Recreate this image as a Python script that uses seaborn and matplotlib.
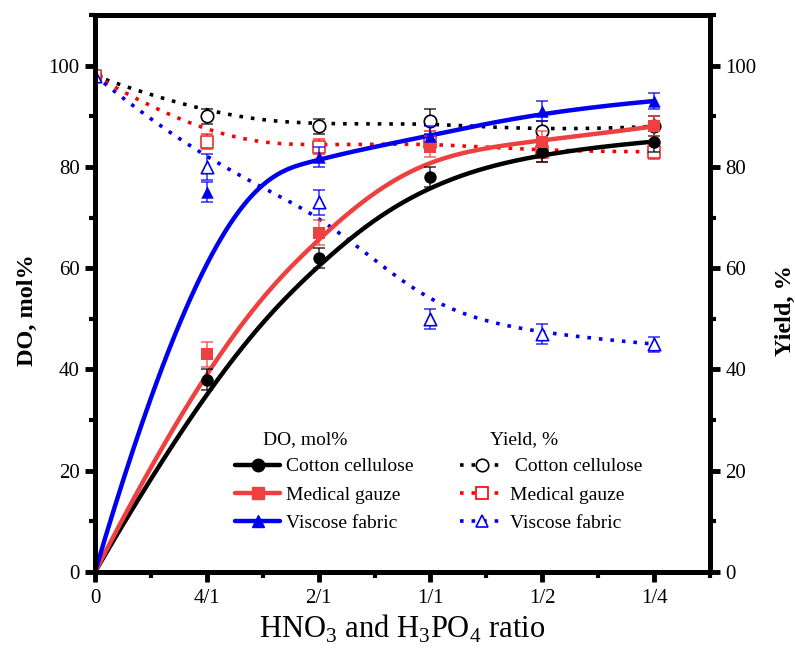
import numpy as np
import pandas as pd
import matplotlib
matplotlib.use("Agg")
import matplotlib.pyplot as plt
from matplotlib.lines import Line2D
from matplotlib.ticker import MultipleLocator
import seaborn as sns

# ratio positions and labels
x_pos = [0, 1, 2, 3, 4, 5]
x_labels = ["0", "4/1", "2/1", "1/1", "1/2", "1/4"]

# degree of oxidation, mol%
do_cotton = [0, 38, 62, 78, 83, 85]
do_gauze = [0, 43, 67, 84, 85, 88]
do_viscose = [0, 75, 82, 86, 91, 93]
do_cotton_err = [0, 2, 2, 2, 2, 2]
do_gauze_err = [0, 2.5, 2.5, 2, 2, 2]
do_viscose_err = [0, 2, 2, 2, 2, 1.5]

# yield, %
y_cotton = [98, 90, 88, 89, 87, 88]
y_gauze = [98, 85, 84, 85, 83, 83]
y_viscose = [98, 80, 73, 50, 47, 45]
y_cotton_err = [0, 1.5, 1.5, 2.5, 2, 2]
y_gauze_err = [0, 1.5, 1.5, 2, 2, 1.5]
y_viscose_err = [0, 2.5, 2.5, 2, 2, 1.5]

BLACK, RED, BLUE = "#000000", "#EE4040", "#0000EE"
RED_DOT = "#FF0000"


def bspline(px, py, degree=3, n=400):
    """Clamped uniform B-spline using the data points as control points."""
    P = np.column_stack([px, py]).astype(float)
    m, k = len(P), degree
    knots = np.concatenate([np.zeros(k + 1), np.arange(1, m - k), np.full(k + 1, m - k)])
    u = np.linspace(0, m - k, n)
    u[-1] -= 1e-9
    N = np.zeros((n, len(knots) - 1))
    for i in range(len(knots) - 1):
        N[:, i] = (u >= knots[i]) & (u < knots[i + 1])
    for d in range(1, k + 1):
        Nn = np.zeros((n, len(knots) - 1 - d))
        for i in range(len(knots) - 1 - d):
            den1 = knots[i + d] - knots[i]
            den2 = knots[i + d + 1] - knots[i + 1]
            t1 = (u - knots[i]) / den1 * N[:, i] if den1 > 0 else 0
            t2 = (knots[i + d + 1] - u) / den2 * N[:, i + 1] if den2 > 0 else 0
            Nn[:, i] = t1 + t2
        N = Nn
    C = N @ P
    return pd.DataFrame({"x": C[:, 0], "y": C[:, 1]})


sns.set_style("ticks")
plt.rcParams["font.family"] = ["Liberation Serif", "DejaVu Serif"]
plt.rcParams["mathtext.fontset"] = "custom"
plt.rcParams["mathtext.rm"] = "Liberation Serif"
plt.rcParams["text.color"] = "black"
plt.rcParams["axes.labelcolor"] = "black"
plt.rcParams["xtick.color"] = "black"
plt.rcParams["ytick.color"] = "black"
plt.rcParams["axes.edgecolor"] = "black"

fig = plt.figure(figsize=(7.95, 6.51), dpi=100)
ax = fig.add_axes([0.1195, 0.1214, 0.7735, 0.8556])
ax2 = ax.twinx()

DOTS = (0, (1, 2.2))

do_sets = [(do_cotton, do_cotton_err, BLACK, "o", "Cotton cellulose"),
           (do_gauze, do_gauze_err, RED, "s", "Medical gauze"),
           (do_viscose, do_viscose_err, BLUE, "^", "Viscose fabric")]
y_sets = [(y_cotton, y_cotton_err, BLACK, "o", " Cotton cellulose"),
          (y_gauze, y_gauze_err, RED_DOT, "s", "Medical gauze"),
          (y_viscose, y_viscose_err, BLUE, "^", "Viscose fabric")]

# yield (right axis): dotted B-spline with hollow markers
for vals, err, col, mk, name in y_sets:
    sns.lineplot(data=bspline(x_pos, vals), x="x", y="y", ax=ax2, color=col, lw=2.6,
                 linestyle=DOTS, sort=False, legend=False)
    ax2.errorbar(x_pos, vals, yerr=err, fmt="none", ecolor=col, elinewidth=1.2,
                 capsize=4, capthick=1.2, alpha=0.75, zorder=3)
    ax2.scatter(x_pos, vals, marker=mk, s=80, facecolor="white",
                edgecolor=("#EE3030" if col == RED_DOT else col), lw=1.2, zorder=4)

# degree of oxidation (left axis): solid B-spline with filled markers
for vals, err, col, mk, name in do_sets:
    sns.lineplot(data=bspline(x_pos, vals), x="x", y="y", ax=ax, color=col, lw=3.2,
                 sort=False, legend=False)
    ax.errorbar(x_pos[1:], vals[1:], yerr=err[1:], fmt="none", ecolor=col,
                elinewidth=1.2, capsize=4, capthick=1.2, alpha=0.75, zorder=3)
    ax.scatter(x_pos[1:], vals[1:], marker=mk, s=80, color=col, lw=0, zorder=4)

ax.set_zorder(ax2.get_zorder() + 1)
ax.patch.set_visible(False)

for a in (ax, ax2):
    a.set_ylim(0, 110)
    a.yaxis.set_major_locator(MultipleLocator(20))
    a.yaxis.set_minor_locator(MultipleLocator(10))
    for s in a.spines.values():
        s.set_linewidth(3.5)
        s.set_color("black")
        s.set_visible(True)
    a.tick_params(which="major", direction="out", length=7, width=3.5, labelsize=15, pad=4)
    a.tick_params(which="minor", direction="out", length=4, width=3)

ax.set_xlim(0, 5.5)
ax.set_xticks(x_pos)
ax.set_xticklabels(x_labels)
ax.xaxis.set_minor_locator(MultipleLocator(0.5))
ax.tick_params(axis="x", which="major", pad=5)

ax.set_xlabel(r"HNO$_3$ and H$_3$PO$_4$ ratio", fontsize=22, labelpad=4)
ax.set_ylabel("DO, mol%", fontsize=17.5, fontweight="bold")
ax2.set_ylabel("Yield, %", fontsize=17.5, fontweight="bold")
ax.yaxis.set_label_coords(-0.092, 0.47)
ax2.yaxis.set_label_coords(1.105, 0.47)

# two-column legend, each column with its own heading
ax.text(0.273, 0.237, "DO, mol%", transform=ax.transAxes, fontsize=14,
        ha="left", va="center")
ax.text(0.642, 0.237, "Yield, %", transform=ax.transAxes, fontsize=14,
        ha="left", va="center")
h_do = [Line2D([], [], color=c, lw=3.2, marker=m, markersize=9) for _, _, c, m, _ in do_sets]
h_y = [Line2D([], [], color=c, lw=2.6, linestyle=DOTS, marker=m, markersize=9,
              markerfacecolor="white", markeredgewidth=1.2) for _, _, c, m, _ in y_sets]
leg_kw = dict(frameon=False, fontsize=14, handlelength=2.3, handletextpad=0.3,
              labelspacing=0.55, borderaxespad=0, borderpad=0)
leg1 = ax.legend(h_do, [n for *_, n in do_sets],
                 loc="upper left", bbox_to_anchor=(0.228, 0.205), **leg_kw)
ax.add_artist(leg1)
leg2 = ax.legend(h_y, [n for *_, n in y_sets],
                 loc="upper left", bbox_to_anchor=(0.593, 0.205), **leg_kw)

fig.savefig("out.png", dpi=100)
